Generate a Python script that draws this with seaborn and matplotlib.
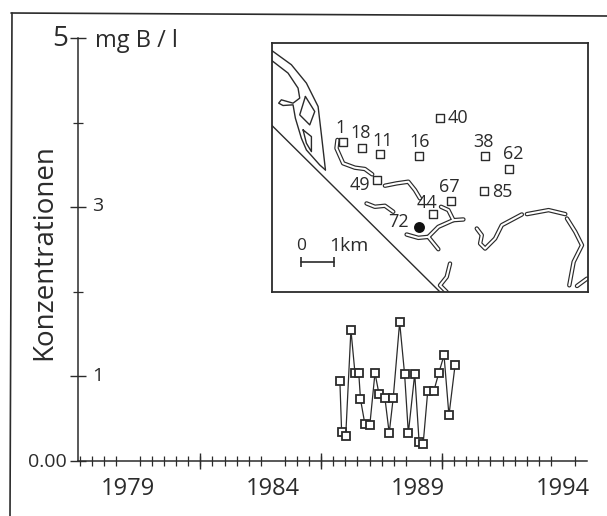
import numpy as np
import pandas as pd
import seaborn as sns
import matplotlib.pyplot as plt
from matplotlib.lines import Line2D

# measured concentrations
years = [1986.31, 1986.37, 1986.51, 1986.69, 1986.83, 1986.96, 1987.02, 1987.17, 1987.34,
         1987.52, 1987.66, 1987.86, 1988.01, 1988.15, 1988.37, 1988.54, 1988.67, 1988.89,
         1989.04, 1989.18, 1989.34, 1989.55, 1989.72, 1989.90, 1990.07, 1990.28]
boron = [0.94, 0.34, 0.29, 1.55, 1.04, 1.04, 0.73, 0.44, 0.42, 1.04, 0.79, 0.75, 0.33,
         0.75, 1.64, 1.03, 0.33, 1.03, 0.23, 0.20, 0.83, 0.83, 1.04, 1.25, 0.54, 1.13]
year_ticks = [1979, 1984, 1989, 1994]
mid_ticks = [1981.5, 1985.67, 1989.83]

# inset map, coordinates in map units
station_x = [235, 291, 346, 461, 524, 660, 732, 337, 658, 559, 504]
station_y = [322, 338, 358, 362, 250, 363, 401, 436, 467, 497, 538]
well_x = [461]
well_y = [575]
map_labels = ["1", "18", "11", "16", "40", "38", "62", "49", "85", "67", "44", "72"]
label_x = [228, 288, 353, 465, 580, 655, 745, 285, 712, 552, 487, 402]
label_y = [280, 295, 318, 320, 250, 320, 358, 450, 472, 455, 505, 560]

coast = [(22, 272), (525, 770)]
thin_lines = [
    [(22, 48), (80, 90), (125, 145), (160, 215), (170, 300), (182, 405)],
    [(22, 78), (70, 115), (100, 160), (105, 190), (85, 205), (50, 195), (42, 205), (55, 212),
     (85, 210), (92, 250), (110, 310), (125, 345), (165, 390), (182, 405)],
    [(122, 185), (105, 240), (135, 270), (150, 230), (122, 185)],
    [(115, 285), (125, 325), (140, 350), (140, 305), (115, 285)],
]
rivers = [
    [(218, 315), (215, 340), (235, 385), (270, 398), (300, 402), (322, 418)],
    [(360, 452), (395, 445), (430, 440), (450, 465), (465, 490)],
    [(305, 505), (330, 515), (360, 512), (385, 530)],
    [(528, 515), (550, 525), (565, 555), (595, 553)],
    [(425, 598), (460, 608), (490, 605), (520, 575), (565, 555)],
    [(490, 605), (520, 642)],
    [(635, 580), (650, 600), (645, 625), (660, 640), (690, 610), (710, 570), (770, 538)],
    [(785, 537), (850, 525), (900, 537)],
    [(905, 550), (930, 590), (950, 630), (925, 680), (912, 750)],
    [(555, 685), (545, 725), (525, 750), (545, 770)],
    [(965, 730), (935, 752)],
]

INK = "#2b2b2b"
W, H = 607, 516

sns.set_style("white")
plt.rcParams["font.family"] = ["Open Sans", "DejaVu Sans"]

df = pd.DataFrame({"year": years, "boron": boron})

fig = plt.figure(figsize=(W / 100, H / 100), dpi=100)
ax = fig.add_axes([78 / W, 1 - 461 / H, (587 - 78) / W, (461 - 38) / H])

sns.lineplot(data=df, x="year", y="boron", ax=ax, estimator=None, sort=False, color=INK,
             linewidth=0.9, marker="s", markersize=5.5, markerfacecolor="white",
             markeredgecolor=INK, markeredgewidth=1.3)

ax.set_xlim(1977.28, 1994.83)
ax.set_ylim(0, 5)
ax.patch.set_alpha(0)
ax.set_xlabel("")
ax.set_ylabel("")
for side in ["top", "right"]:
    ax.spines[side].set_visible(False)
for side in ["left", "bottom"]:
    ax.spines[side].set_color(INK)
    ax.spines[side].set_linewidth(1.1)

# x axis: long ticks every 5 years, a few medium ones, small in between
ax.set_xticks(year_ticks)
ax.set_xticklabels([str(y) for y in year_ticks], fontsize=17, color=INK)
ax.set_xticks(1979 + np.arange(-4, 38) * 5 / 12, minor=True)
ax.tick_params(axis="x", which="major", direction="inout", length=17, width=1.0, color=INK, pad=3)
ax.tick_params(axis="x", which="minor", direction="inout", length=7, width=0.9, color=INK, bottom=True)
ax.vlines(mid_ticks, -0.1, 0.1, color=INK, lw=1.0, clip_on=False)

ax.set_yticks([0, 1, 3, 5])
ax.set_yticklabels([])
ax.set_yticks([2, 4], minor=True)
ax.tick_params(axis="y", which="major", direction="inout", length=11, width=1.0, color=INK, left=True)
ax.tick_params(axis="y", which="minor", direction="inout", length=7, width=0.9, color=INK, left=True)

# axis texts sit at odd places in the original, so place them by pixel
fig.text(92 / W, 1 - 376 / H, "1", fontsize=14, color=INK, va="center")
fig.text(92 / W, 1 - 206 / H, "3", fontsize=14, color=INK, va="center")
fig.text(68 / W, 1 - 39 / H, "5", fontsize=20, color=INK, va="center", ha="right")
fig.text(67 / W, 1 - 462 / H, "0.00", fontsize=14, color=INK, va="center", ha="right")
fig.text(95 / W, 1 - 41 / H, "mg B / l", fontsize=17, color=INK, va="center")
fig.text(44 / W, 1 - 252 / H, "Konzentrationen", fontsize=20, color=INK, rotation=90,
         va="center", ha="center")

# scanned page border
for xs, ys in [([12, 10], [13, 516]), ([11, 607], [13, 16])]:
    fig.add_artist(Line2D([x / W for x in xs], [1 - y / H for y in ys], color=INK, lw=1.2))

# inset map
m = fig.add_axes([272 / W, 1 - 292 / H, (588 - 272) / W, (292 - 43) / H])
m.set_xticks([])
m.set_yticks([])
for s in m.spines.values():
    s.set_visible(True)
    s.set_color(INK)
    s.set_linewidth(1.3)

m.plot(*zip(*coast), color=INK, lw=1.0)
for line in thin_lines:
    m.plot(*zip(*line), color=INK, lw=1.0)
for line in rivers:
    m.plot(*zip(*line), color=INK, lw=3.2, solid_capstyle="round", solid_joinstyle="round")
for line in rivers:
    m.plot(*zip(*line), color="white", lw=1.5, solid_capstyle="round", solid_joinstyle="round")

sns.scatterplot(x=station_x, y=station_y, ax=m, marker="s", s=34, facecolor="white",
                edgecolor=INK, linewidth=1.0, zorder=5)
sns.scatterplot(x=well_x, y=well_y, ax=m, marker="o", s=62, color="#111111", linewidth=0, zorder=5)
m.set_xlim(22, 968)
m.set_ylim(770, 25)

for t, x, y in zip(map_labels, label_x, label_y):
    m.text(x, y, t, fontsize=13, color=INK, ha="center", va="center")

m.text(110, 632, "0", fontsize=12.5, color=INK, ha="center", va="center")
m.text(252, 632, "1km", fontsize=14, color=INK, ha="center", va="center")
m.plot([108, 208], [680, 680], color=INK, lw=1.2, marker="|", markersize=7, markeredgewidth=1.2)

fig.savefig("out.png", dpi=100)
